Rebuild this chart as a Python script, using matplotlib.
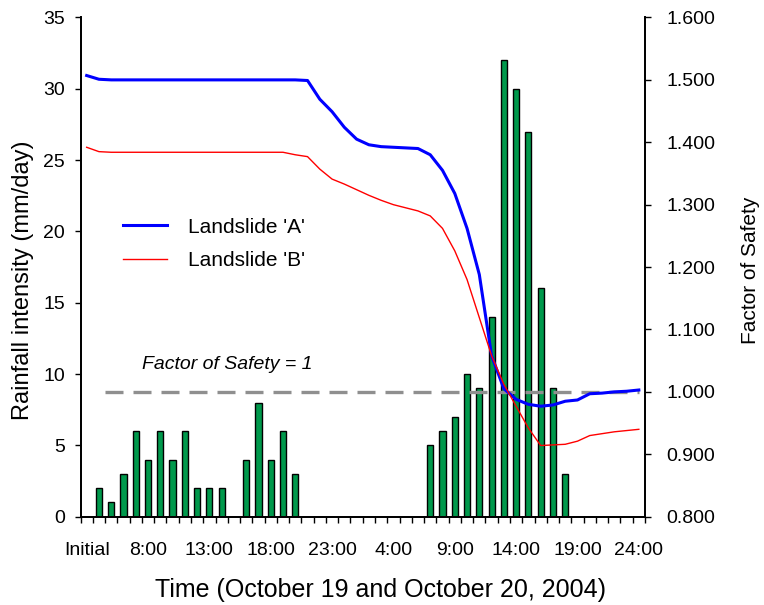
import matplotlib.pyplot as plt
import numpy as np

plt.rcParams['font.family'] = ['Liberation Sans', 'DejaVu Sans']

# passos horarios: "Initial", 4:00..24:00 (19 out), 1:00..24:00 (20 out)
horas = ['Initial'] + ['%d:00' % h for h in range(4, 25)] + ['%d:00' % h for h in range(1, 25)]

# chuva em mm/day
chuva = [0, 2, 1, 3, 6, 4, 6, 4, 6, 2, 2, 2, 0, 4, 8, 4, 6, 3,
         0, 0, 0, 0, 0, 0, 0, 0, 0, 0,
         5, 6, 7, 10, 9, 14, 32, 30, 27, 16, 9, 3,
         0, 0, 0, 0, 0, 0]

# fator de seguranca
fs_a = [1.507, 1.501] + [1.500] * 16 + [
        1.499, 1.469, 1.449, 1.424, 1.405, 1.396, 1.393, 1.392, 1.391, 1.390,
        1.380, 1.355, 1.318, 1.262, 1.188, 1.058, 1.005, 0.988, 0.980, 0.977,
        0.979, 0.985, 0.987, 0.997, 0.998, 1.000, 1.001, 1.003]

fs_b = [1.392, 1.385] + [1.384] * 15 + [
        1.380, 1.377, 1.357, 1.341, 1.333, 1.324, 1.315, 1.307, 1.300, 1.295,
        1.290, 1.282, 1.262, 1.226, 1.180, 1.119, 1.058, 1.012, 0.977, 0.942,
        0.914, 0.915, 0.916, 0.921, 0.930, 0.933, 0.936, 0.938, 0.940]

fs_limite = 1.0

x = np.arange(len(horas))

fig = plt.figure(figsize=(7.64, 6.05), dpi=100)
ax = fig.add_axes([0.1054, 0.146, 0.7388, 0.8251])
ax2 = ax.twinx()

ax.bar(x, chuva, width=0.5, color='#00994c', edgecolor='black', linewidth=1.0)
ax.set_xlim(-0.5, len(horas) - 0.5)
ax.set_ylim(0, 35)
ax.set_yticks(range(0, 36, 5))

ax.set_xticks(x[::5])
ax.set_xticklabels(horas[::5])
ax.set_xticks(np.arange(-0.5, len(horas), 1), minor=True)
ax.tick_params(axis='x', which='major', length=0, pad=18, labelsize=14)
ax.tick_params(axis='x', which='minor', length=4, width=1, direction='out')
ax.tick_params(axis='y', length=4.3, width=1, direction='out', pad=7, labelsize=14)

ax2.hlines(fs_limite, 1.5, 45, colors='#8f8f8f', linewidth=2.4, linestyles=(0, (5.4, 3)))
ax2.plot(x, fs_a, color='#0000ff', linewidth=2.2, label="Landslide 'A'")
ax2.plot(x, fs_b, color='#ff0000', linewidth=1.0, label="Landslide 'B'")
ax2.set_ylim(0.8, 1.6)
ax2.set_yticks(np.arange(0.8, 1.61, 0.1))
ax2.yaxis.set_major_formatter(plt.FormatStrFormatter('%.3f'))
ax2.tick_params(axis='y', length=4.3, width=1, direction='out', pad=11, labelsize=14)

ax2.text(4.5, 1.044, 'Factor of Safety = 1', fontsize=14, style='italic',
         ha='left', va='center')

for a in (ax, ax2):
    a.spines['top'].set_visible(False)
    for s in ('left', 'right', 'bottom'):
        a.spines[s].set_linewidth(1.3)

ax.set_xlabel('Time (October 19 and October 20, 2004)', fontsize=18)
ax.xaxis.set_label_coords(0.5306, -0.123)
ax.set_ylabel('Rainfall intensity (mm/day)', fontsize=17)
ax.yaxis.set_label_coords(-0.082, 0.474)
ax2.set_ylabel('Factor of Safety', fontsize=15)
ax2.yaxis.set_label_coords(1.17, 0.494)

ax2.legend(loc='center left', bbox_to_anchor=(0.161, 0.597), bbox_transform=fig.transFigure,
           frameon=False, fontsize=15, handlelength=2.1, handletextpad=1.0,
           labelspacing=0.7, borderpad=0, borderaxespad=0)

fig.savefig('out.png', dpi=100)
